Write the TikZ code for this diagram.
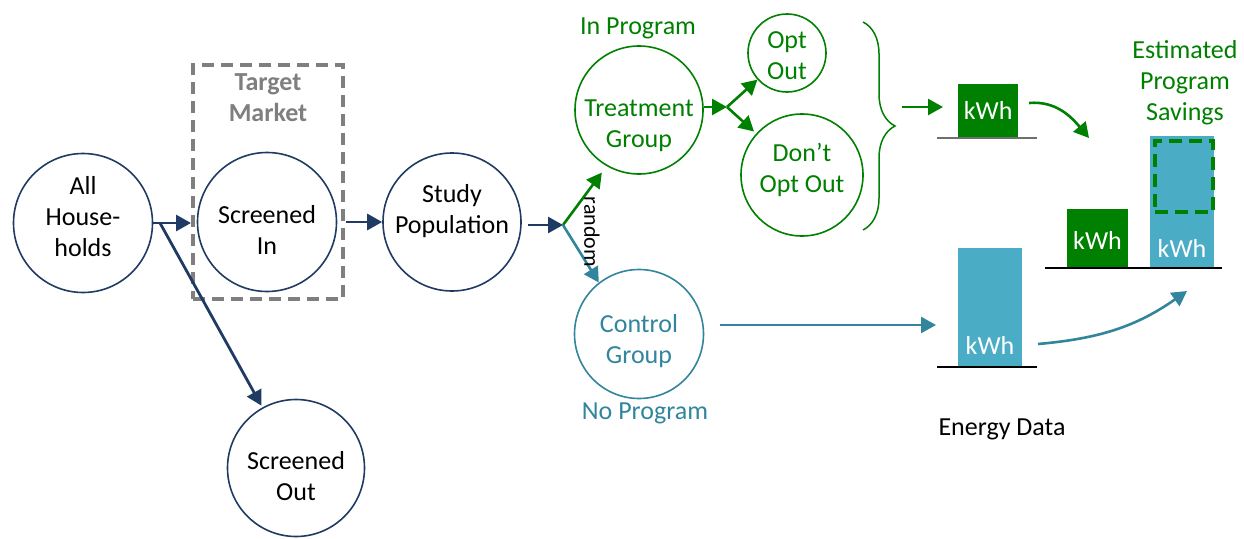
\documentclass[tikz,border=0pt]{standalone}
\usepackage{fontspec}
\setmainfont{Carlito}
\usetikzlibrary{arrows.meta,decorations.pathreplacing}
\definecolor{navy}{HTML}{1F3A63}
\definecolor{grn}{HTML}{008000}
\definecolor{tealc}{HTML}{31859C}
\definecolor{tealbar}{HTML}{4BACC6}
\definecolor{dgray}{HTML}{7F7F7F}
\definecolor{lgray}{HTML}{6F6F6F}
\begin{document}
\begin{tikzpicture}[x=1pt,y=1pt,
  font=\fontsize{26}{31}\selectfont,
  circ/.style={circle, draw, line width=1.6pt, inner sep=0pt},
  navycirc/.style={circ, draw=navy},
  grncirc/.style={circ, draw=grn},
  tealcirc/.style={circ, draw=tealc},
  ctext/.style={align=center},
  tip/.style={-{Triangle[length=15pt,width=16pt]}},
  navyarr/.style={tip, draw=navy, line width=2.8pt},
  grnarr/.style={tip, draw=grn, line width=2.6pt},
  tealarr/.style={tip, draw=tealc, line width=2.6pt},
  bar/.style={inner sep=0pt, text=white, anchor=north west},
  ground/.style={line width=2.2pt},
]
\useasboundingbox (0,0) rectangle (1244,-538);

% Left part
\node[navycirc, minimum size=139pt,
  label={[ctext, yshift=6.5pt]center:All\\House-\\holds}] (hh) at (83,-223) {};
\node[draw=dgray, line width=4pt, dash pattern=on 12pt off 7pt,
  minimum width=150pt, minimum height=234pt, inner sep=0pt] (tm) at (268,-182) {};
\node[ctext, text=dgray, font=\fontsize{26}{31}\selectfont\bfseries] (tmlab) at (268,-98) {Target\\Market};
\node[navycirc, minimum size=139pt,
  label={[ctext, yshift=-7.5pt]center:Screened\\In}] (si) at (267,-222) {};
\node[navycirc, minimum size=137pt,
  label={[ctext, yshift=-8pt]center:Screened\\Out}] (so) at (296,-468) {};
\node[navycirc, minimum size=138pt,
  label={[ctext, yshift=10.5pt]center:Study\\Population}] (sp) at (452,-222) {};

\coordinate (s1) at (160,-223);
\coordinate (s2) at (563,-225);
\coordinate (s3) at (727,-107);

\draw[navyarr] (s1) -- (tm.west |- s1);
\draw[navy, line width=2.8pt] (hh.east |- s1) -- (s1);
\draw[navyarr, shorten >=2pt] (s1) -- (so);
\draw[navyarr, shorten <=9pt] (si.east) -- (sp.west);
\draw[navyarr, shorten <=6pt] (sp.east |- s2) -- (s2);

% Treatment branch
\node[grncirc, minimum size=128pt,
  label={[ctext, text=grn, yshift=-15.5pt]center:Treatment\\Group}] (tc) at (639,-110) {};
\node[text=grn] (inprog) at (638,-28) {In Program};
\node[grncirc, minimum size=78pt,
  label={[ctext, text=grn, yshift=-3pt]center:Opt\\Out}] (oo) at (787,-53) {};
\node[grncirc, minimum size=122pt,
  label={[ctext, text=grn, yshift=5.5pt]center:Don’t\\Opt Out}] (doo) at (802,-175) {};

\draw[grnarr, shorten >=8pt] (s2) -- (tc.240);
\draw[grnarr] (tc.east |- s3) -- (s3);
\draw[grnarr] (s3) -- (oo);
\draw[grnarr, shorten >=3pt] (s3) -- (doo);

% Control branch
\node[tealcirc, minimum size=129pt,
  label={[ctext, text=tealc, yshift=-7.5pt]center:Control\\Group}] (cg) at (639,-334) {};
\node[text=tealc] (noprog) at (645,-413) {No Program};
\draw[tealarr] (s2) -- (cg.128);
\node[rotate=-90, font=\fontsize{22}{26}\selectfont] (rnd) at (592,-232) {random};

% Brace
\coordinate (bt) at (863,-22);
\coordinate (bb) at (863,-230);
\draw[grn, line width=1.5pt, decorate, decoration={brace, amplitude=32pt}] (bt) -- (bb);
\coordinate (bm) at (902,-107);

% Treatment energy bar
\node[bar, fill=grn, minimum width=60pt, minimum height=53pt] (gb) at (958,-84) {};
\node[text=white] (gbt) at (gb.center) {kWh};
\draw[grnarr] (bm) -- (943,-107) coordinate (bme);
\draw[lgray, ground] (937,-138) coordinate (g1a) -- (1037,-138) coordinate (g1b);

% Control energy bar
\node[bar, fill=tealbar, minimum width=64pt, minimum height=119pt] (tb) at (958,-248) {};
\node[text=white] (tbt) at (990,-345) {kWh};
\draw[ground] (937,-367) coordinate (g2a) -- (1037,-367) coordinate (g2b);
\coordinate (cgo) at (720,-325);
\coordinate (cge) at (936,-325);
\draw[tealarr] (cgo) -- (cge);

% Comparison
\node[bar, fill=grn, minimum width=61pt, minimum height=59pt] (gc) at (1067,-209) {};
\node[text=white] (gct) at (1097.5,-240) {kWh};
\node[bar, fill=tealbar, minimum width=64pt, minimum height=132pt] (tc2) at (1150,-136) {};
\node[text=white] (tct) at (1182,-248) {kWh};
\node[draw=grn, line width=4pt, dash pattern=on 13pt off 7pt, inner sep=0pt,
  minimum width=58pt, minimum height=71pt, anchor=north west] (sav) at (1153,-139) {};
\draw[ground] (1045,-268) coordinate (g3a) -- (1222,-268) coordinate (g3b);
\node[ctext, text=grn] (est) at (1185,-83) {Estimated\\Program\\Savings};

\coordinate (c1s) at (1029,-103);
\coordinate (c1e) at (1089,-138);
\draw[grnarr] (c1s) to[out=5, in=130] (c1e);
\coordinate (c2s) at (1038,-344);
\coordinate (c2e) at (1187,-291);
\draw[tealarr] (c2s) to[out=5, in=215] (c2e);

\node (ed) at (1002,-429) {Energy Data};
\end{tikzpicture}
\end{document}
